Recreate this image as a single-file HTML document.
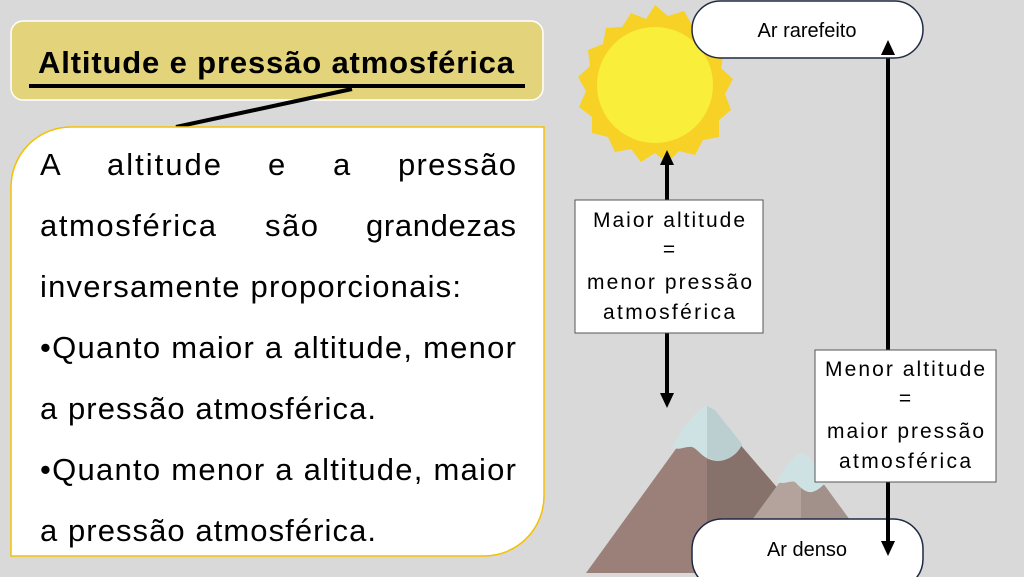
<!DOCTYPE html>
<html><head><meta charset="utf-8"><style>
body{margin:0;background:#d9d9d9;}
svg{display:block;font-family:"Liberation Sans",sans-serif;}
</style></head><body>
<svg width="1024" height="577" viewBox="0 0 1024 577">
<rect width="1024" height="577" fill="#d9d9d9"/>
<rect x="11" y="21" width="532" height="79" rx="12" fill="#e3d47c" stroke="#fff" stroke-width="1.5"/>
<text x="38" y="73" font-size="31" font-weight="bold" textLength="476" lengthAdjust="spacing">Altitude e pressão atmosférica</text>
<line x1="29" y1="86" x2="525" y2="86" stroke="#000" stroke-width="4"/>
<line x1="352" y1="89" x2="176" y2="127" stroke="#000" stroke-width="4"/>
<path d="M71 127 H544 V496 A60 60 0 0 1 484 556 H11 V187 A60 60 0 0 1 71 127 Z" fill="#fff" stroke="#f5c000" stroke-width="1.5"/>
<g font-size="31" fill="#000">
<text x="40" y="175">A</text>
<text x="107" y="175" textLength="114" lengthAdjust="spacing">altitude</text>
<text x="268" y="175">e</text>
<text x="333" y="175">a</text>
<text x="398" y="175" textLength="118" lengthAdjust="spacing">pressão</text>
<text x="40" y="236" textLength="176" lengthAdjust="spacing">atmosférica</text>
<text x="265" y="236" textLength="53" lengthAdjust="spacing">são</text>
<text x="366" y="236" textLength="150" lengthAdjust="spacing">grandezas</text>
<text x="40" y="297" textLength="421" lengthAdjust="spacing">inversamente proporcionais:</text>
<text x="40" y="358" textLength="476" lengthAdjust="spacing">•Quanto maior a altitude, menor</text>
<text x="40" y="419" textLength="336" lengthAdjust="spacing">a pressão atmosférica.</text>
<text x="40" y="480" textLength="476" lengthAdjust="spacing">•Quanto menor a altitude, maior</text>
<text x="40" y="541" textLength="336" lengthAdjust="spacing">a pressão atmosférica.</text>
</g>
<polygon fill="#f7d125" points="655,5 668,16 684,11 692,25 708,28 710,44 724,52 721,68 733,79 725,94 731,110 719,120 719,137 703,140 695,155 679,151 667,163 655,153 641,162 631,149 615,152 608,137 592,133 592,117 579,107 586,91 578,77 590,66 588,50 603,44 606,28 622,27 631,13 646,19"/>
<circle cx="655" cy="85" r="58" fill="#f9ee3a"/>
<polygon points="707,406 586,573 770,573 792,505" fill="#9b8079"/>
<polygon points="707,406 792,505 790,573 707,573" fill="#87726b"/>
<polygon points="801,453 752,520 801,520" fill="#b4a39d"/>
<polygon points="801,453 850,520 801,520" fill="#a2918b"/>
<path d="M707,406 C698,408 685,425 672,446 C678,452 684,446 692,447 C700,450 702,460 718,461 C732,460 740,450 742,444 L715,410 Z" fill="#cfe2e3"/>
<path d="M707,406 L715,410 L742,444 C740,450 732,460 718,461 L707,458 Z" fill="#bccfd0"/>
<path d="M801,453 C795,455 785,465 777,482 C785,485 790,480 795,482 C800,487 805,493 812,492 C820,490 826,482 828,480 L808,456 Z" fill="#cfe2e3"/>
<g stroke="#000" stroke-width="4">
<line x1="667" y1="162" x2="667" y2="200"/>
<line x1="667" y1="333" x2="667" y2="396"/>
<line x1="888" y1="52" x2="888" y2="350"/>
</g>
<polygon points="667,150 660,165 674,165" fill="#000"/>
<polygon points="667,408 660,393 674,393" fill="#000"/>
<rect x="692" y="1" width="231" height="57" rx="28.5" fill="#fff" stroke="#1f2a44" stroke-width="1.5"/>
<text x="807" y="37" font-size="20" text-anchor="middle">Ar rarefeito</text>
<rect x="692" y="519" width="231" height="70" rx="30" fill="#fff" stroke="#1f2a44" stroke-width="1.5"/>
<text x="807" y="556" font-size="20" text-anchor="middle">Ar denso</text>
<polygon points="888,40 881,55 895,55" fill="#000"/>
<line x1="888" y1="482" x2="888" y2="545" stroke="#000" stroke-width="4"/>
<polygon points="888,556 881,541 895,541" fill="#000"/>
<rect x="575" y="200" width="188" height="133" fill="#fff" stroke="#555" stroke-width="1"/>
<g font-size="21">
<text x="593" y="227" textLength="152" lengthAdjust="spacing">Maior altitude</text>
<text x="669" y="256" text-anchor="middle">=</text>
<text x="587" y="289" textLength="165" lengthAdjust="spacing">menor pressão</text>
<text x="603" y="319" textLength="132" lengthAdjust="spacing">atmosférica</text>
</g>
<rect x="815" y="350" width="181" height="132" fill="#fff" stroke="#555" stroke-width="1"/>
<g font-size="21">
<text x="825" y="376" textLength="160" lengthAdjust="spacing">Menor altitude</text>
<text x="905" y="405" text-anchor="middle">=</text>
<text x="827" y="438" textLength="157" lengthAdjust="spacing">maior pressão</text>
<text x="839" y="468" textLength="132" lengthAdjust="spacing">atmosférica</text>
</g>
</svg>
</body></html>
